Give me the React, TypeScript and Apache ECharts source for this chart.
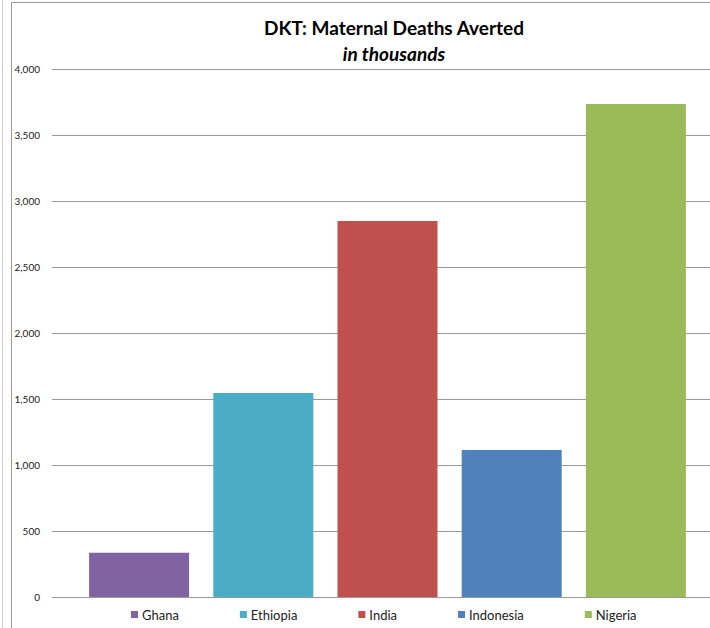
import React, { useEffect, useRef } from "react";
import * as echarts from "echarts";

const countries = ["Ghana", "Ethiopia", "India", "Indonesia", "Nigeria"];
const deathsAverted = [336, 1545, 2848, 1114, 3735];
const colors = ["#8064A2", "#4BACC6", "#C0504D", "#4F81BD", "#9BBB59"];
const titleText = "DKT: Maternal Deaths Averted";
const subtitleText = "in thousands";

const FONT = "Lato, 'Open Sans', sans-serif";

export default function App() {
  const ref = useRef<HTMLDivElement>(null);
  useEffect(() => {
    if (!ref.current) return;
    const chart = echarts.init(ref.current, undefined, { renderer: "svg" });
    const series = countries.map((name, i) => ({
      name,
      type: "bar",
      stack: "total",
      xAxisIndex: 1,
      yAxisIndex: 1,
      barWidth: 100,
      itemStyle: { color: colors[i] },
      data: countries.map((_, j) => (j === i ? deathsAverted[i] : null)),
    }));
    chart.setOption({
      animation: false,
      backgroundColor: "#ffffff",
      textStyle: { fontFamily: FONT },
      grid: [
        { left: 52, right: 0, top: 69, bottom: 31 },
        { left: 77, right: 12, top: 69, bottom: 31 },
      ],
      xAxis: [
        { type: "category", gridIndex: 0, data: [""], show: false },
        { type: "category", gridIndex: 1, data: countries, show: false },
      ],
      yAxis: [
        {
          type: "value",
          gridIndex: 0,
          min: 0,
          max: 4000,
          interval: 500,
          axisLine: { show: false },
          axisTick: { show: false },
          axisLabel: {
            margin: 12,
            fontSize: 10,
            fontFamily: FONT,
            color: "#222",
            formatter: (v: number) => v.toLocaleString("en-US"),
          },
          splitLine: { show: true, lineStyle: { color: "#9a9a9a", width: 1 } },
        },
        {
          type: "value",
          gridIndex: 1,
          min: 0,
          max: 4000,
          interval: 500,
          show: false,
          splitLine: { show: false },
        },
      ],
      legend: {
        data: countries,
        left: 131,
        top: 608,
        padding: 0,
        icon: "rect",
        itemWidth: 7,
        itemHeight: 7,
        itemGap: 61,
        textStyle: { fontSize: 13, fontFamily: FONT, color: "#222", padding: [0, 0, 0, -1] },
      },
      graphic: [
        {
          type: "line",
          shape: { x1: 2.5, y1: 0, x2: 2.5, y2: 628 },
          style: { stroke: "#cfcfcf", lineWidth: 1 },
          silent: true,
        },
        {
          type: "rect",
          shape: { x: 11.5, y: 2.5, width: 720, height: 640 },
          style: { fill: "none", stroke: "#9a9a9a", lineWidth: 1 },
          silent: true,
        },
        {
          type: "text",
          x: 394,
          y: 27.5,
          style: {
            text: titleText,
            fontSize: 19,
            fontWeight: "bold",
            fontFamily: FONT,
            fill: "#000",
            align: "center",
            verticalAlign: "middle",
          },
        },
        {
          type: "text",
          x: 394,
          y: 53.5,
          style: {
            text: subtitleText,
            fontSize: 19,
            fontWeight: "bold",
            fontStyle: "italic",
            fontFamily: FONT,
            fill: "#000",
            align: "center",
            verticalAlign: "middle",
          },
        },
      ],
      series,
    });
    return () => chart.dispose();
  }, []);
  return (
    <div
      ref={ref}
      style={{ position: "fixed", left: 0, top: 0, width: 710, height: 628 }}
    />
  );
}
